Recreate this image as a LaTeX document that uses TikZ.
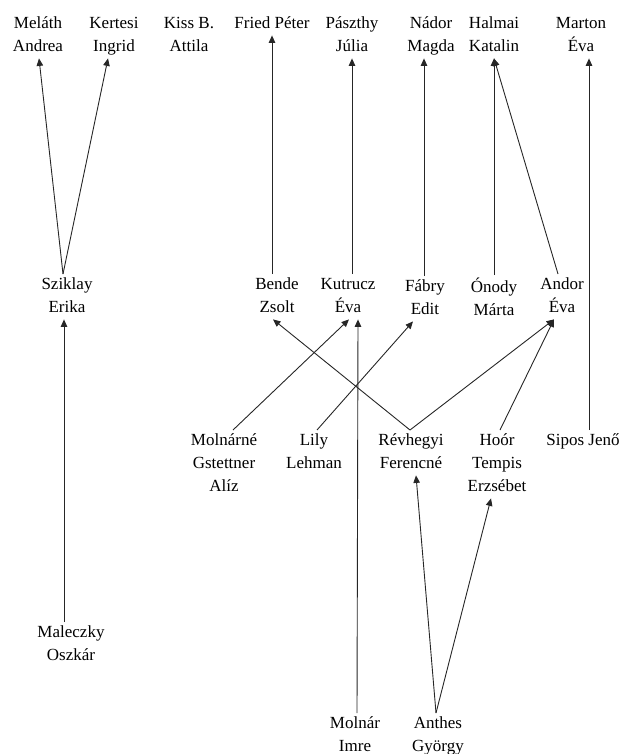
\documentclass[tikz,border=0pt]{standalone}
\usepackage{fontspec}
\setmainfont{Liberation Serif}
\usetikzlibrary{arrows.meta}

% one line of a name, with a fixed strut so every node has the same line box
\newcommand{\nl}[1]{\rule[-4pt]{0pt}{16pt}#1}

\tikzset{
  person/.style={anchor=north, align=center, inner xsep=2pt, inner ysep=3pt,
    font=\fontsize{17}{23}\selectfont, text=black},
  link/.style={draw=black!85, line width=0.9pt,
    -{Triangle[length=7.5pt,width=6.5pt]}}
}

\begin{document}
\begin{tikzpicture}[x=1pt,y=-1pt]
  \useasboundingbox (0,0) rectangle (622,754);

  % top row
  \node[person] (melath)  at (38,13)  {\nl{Meláth}\\\nl{Andrea}};
  \node[person] (kertesi) at (114,13) {\nl{Kertesi}\\\nl{Ingrid}};
  \node[person] (kiss)    at (189,13) {\nl{Kiss B.}\\\nl{Attila}};
  \node[person] (fried)   at (272,13) {\nl{Fried Péter}};
  \node[person] (paszthy) at (352,13) {\nl{Pászthy}\\\nl{Júlia}};
  \node[person] (nador)   at (431,13) {\nl{Nádor}\\\nl{Magda}};
  \node[person] (halmai)  at (494,13) {\nl{Halmai}\\\nl{Katalin}};
  \node[person] (marton)  at (581,13) {\nl{Marton}\\\nl{Éva}};

  % second row
  \node[person] (sziklay) at (67,274)  {\nl{Sziklay}\\\nl{Erika}};
  \node[person] (bende)   at (277,274) {\nl{Bende}\\\nl{Zsolt}};
  \node[person] (kutrucz) at (348,274) {\nl{Kutrucz}\\\nl{Éva}};
  \node[person] (fabry)   at (425,276) {\nl{Fábry}\\\nl{Edit}};
  \node[person] (onody)   at (494,275) {\nl{Ónody}\\\nl{Márta}};
  \node[person] (andor)   at (562,274) {\nl{Andor}\\\nl{Éva}};

  % third row
  \node[person] (molnarne) at (224,430) {\nl{Molnárné}\\\nl{Gstettner}\\\nl{Alíz}};
  \node[person] (lily)     at (314,430) {\nl{Lily}\\\nl{Lehman}};
  \node[person] (revhegyi) at (411,430) {\nl{Révhegyi}\\\nl{Ferencné}};
  \node[person] (hoor)     at (497,430) {\nl{Hoór}\\\nl{Tempis}\\\nl{Erzsébet}};
  \node[person] (sipos)    at (583,430) {\nl{Sipos Jenő}};

  % lower rows
  \node[person] (maleczky) at (71,622)  {\nl{Maleczky}\\\nl{Oszkár}};
  \node[person] (molnar)   at (355,713) {\nl{Molnár}\\\nl{Imre}};
  \node[person] (anthes)   at (438,713) {\nl{Anthes}\\\nl{György}};

  % connectors
  \draw[link] ([xshift=-4pt]sziklay.north) -- ([xshift=1pt]melath.south);
  \draw[link] ([xshift=-4pt]sziklay.north) -- ([xshift=-6pt]kertesi.south);
  \draw[link] ([xshift=-7pt]maleczky.north) -- ([xshift=-3pt]sziklay.south);
  \draw[link] ([xshift=-5pt]bende.north) -- (fried.south);
  \draw[link] ([xshift=4pt]kutrucz.north) -- (paszthy.south);
  \draw[link] ([xshift=-1pt]fabry.north) -- ([xshift=-7pt]nador.south);
  \draw[link] (onody.north) -- (halmai.south);
  \draw[link] ([xshift=-4pt]andor.north) -- (halmai.south);
  \draw[link] ([xshift=6pt]sipos.north) -- ([xshift=8pt]marton.south);
  \draw[link] ([xshift=9pt]molnarne.north) -- ([xshift=1pt]kutrucz.south);
  \draw[link] ([xshift=3pt]lily.north) -- ([xshift=-12pt]fabry.south);
  \draw[link] ([xshift=-1pt]revhegyi.north) -- ([xshift=-4pt]bende.south);
  \draw[link] ([xshift=-1pt]revhegyi.north) -- ([xshift=-8pt]andor.south);
  \draw[link] ([xshift=3pt]hoor.north) -- ([xshift=-8pt]andor.south);
  \draw[link] ([xshift=2pt]molnar.north) -- ([xshift=10pt]kutrucz.south);
  \draw[link] ([xshift=-2pt]anthes.north) -- ([xshift=5pt]revhegyi.south);
  \draw[link] ([xshift=-2pt]anthes.north) -- ([xshift=-6pt]hoor.south);
\end{tikzpicture}
\end{document}
